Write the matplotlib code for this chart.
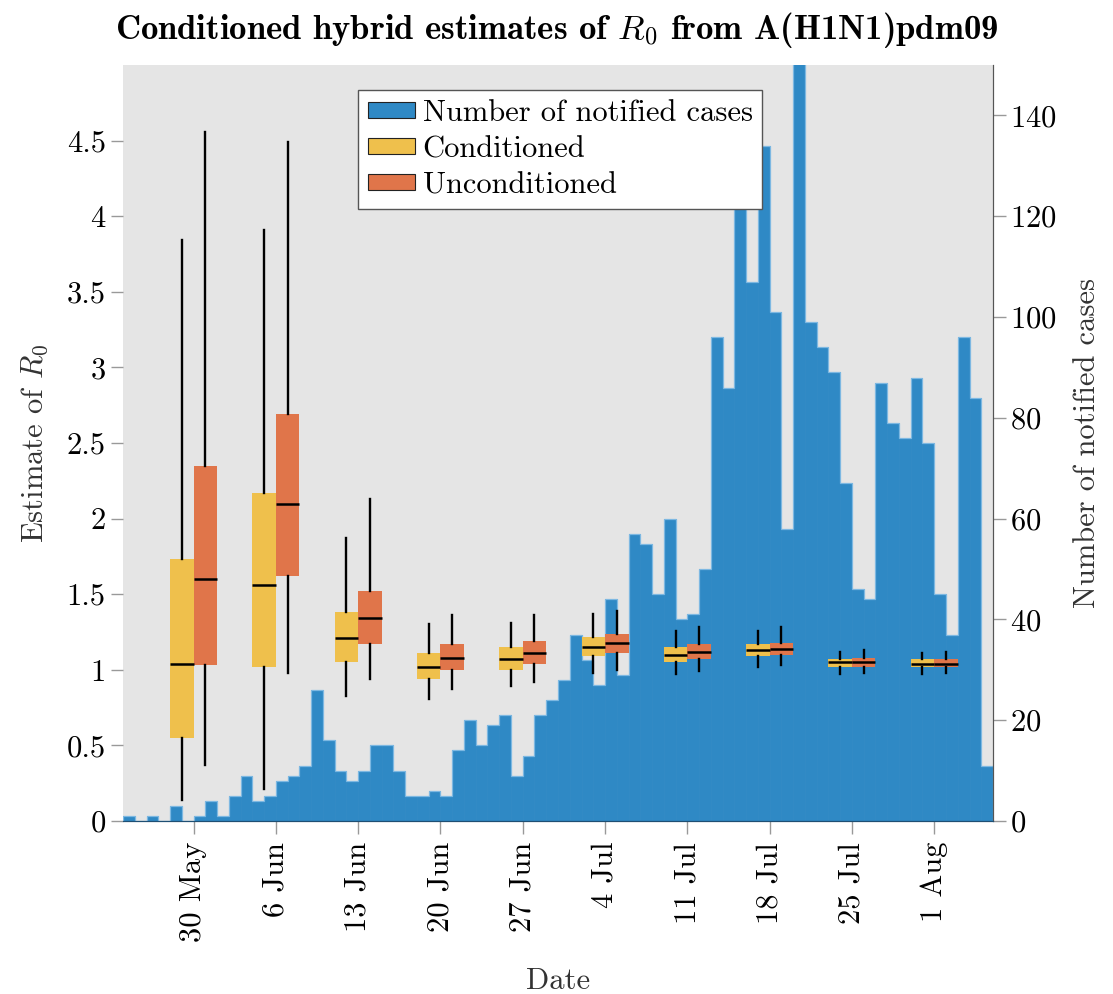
import datetime as dt
import matplotlib
matplotlib.use("Agg")
import matplotlib.pyplot as plt
import matplotlib.dates as mdates
from matplotlib.patches import Patch

plt.rcParams["font.family"] = "serif"
plt.rcParams["font.serif"] = ["cmr10"]
plt.rcParams["mathtext.fontset"] = "cm"
plt.rcParams["axes.unicode_minus"] = False
plt.rcParams["axes.formatter.use_mathtext"] = True

# daily notified cases, starting 24 May 2009
first_day = dt.date(2009, 5, 24)
cases = [1, 0, 1, 0, 3, 0, 1, 4, 1, 5, 9, 4, 5, 8, 9, 11, 26, 16, 10, 8,
         10, 15, 15, 10, 5, 5, 6, 5, 14, 20, 15, 19, 21, 9, 13, 21, 24, 28, 37, 32,
         27, 44, 29, 57, 55, 45, 60, 40, 41, 50, 96, 86, 128, 107, 134, 101, 58, 155, 99, 94,
         89, 67, 46, 44, 87, 79, 76, 88, 75, 45, 37, 96, 84, 11]

week_dates = [dt.date(2009, 5, 30), dt.date(2009, 6, 6), dt.date(2009, 6, 13),
              dt.date(2009, 6, 20), dt.date(2009, 6, 27), dt.date(2009, 7, 4),
              dt.date(2009, 7, 11), dt.date(2009, 7, 18), dt.date(2009, 7, 25),
              dt.date(2009, 8, 1)]
week_labels = ["30 May", "6 Jun", "13 Jun", "20 Jun", "27 Jun",
               "4 Jul", "11 Jul", "18 Jul", "25 Jul", "1 Aug"]

# R0 estimates per week: whisker low, q1, median, q3, whisker high
cond_lo = [0.14, 0.21, 0.83, 0.81, 0.89, 0.98, 0.97, 1.02, 0.97, 0.97]
cond_q1 = [0.55, 1.02, 1.05, 0.94, 1.00, 1.09, 1.05, 1.09, 1.02, 1.02]
cond_med = [1.04, 1.56, 1.21, 1.02, 1.07, 1.15, 1.10, 1.13, 1.05, 1.04]
cond_q3 = [1.73, 2.17, 1.38, 1.11, 1.15, 1.22, 1.15, 1.17, 1.07, 1.07]
cond_hi = [3.84, 3.91, 1.87, 1.30, 1.31, 1.37, 1.26, 1.26, 1.12, 1.11]

uncond_lo = [0.37, 0.98, 0.94, 0.87, 0.92, 1.00, 0.99, 1.03, 0.98, 0.98]
uncond_q1 = [1.03, 1.62, 1.17, 1.00, 1.04, 1.11, 1.07, 1.10, 1.02, 1.02]
uncond_med = [1.60, 2.10, 1.34, 1.08, 1.11, 1.18, 1.12, 1.14, 1.05, 1.04]
uncond_q3 = [2.35, 2.69, 1.52, 1.17, 1.19, 1.24, 1.17, 1.18, 1.08, 1.07]
uncond_hi = [4.56, 4.49, 2.13, 1.36, 1.36, 1.39, 1.28, 1.28, 1.13, 1.12]

r0_ticks = [0, 0.5, 1, 1.5, 2, 2.5, 3, 3.5, 4, 4.5]
r0_labels = ["0", "0.5", "1", "1.5", "2", "2.5", "3", "3.5", "4", "4.5"]
case_ticks = [0, 20, 40, 60, 80, 100, 120, 140]

BLUE = "#2f89c5"
YELLOW = "#efc04c"
ORANGE = "#e0754a"
FS = 22


def make_stats(lo, q1, med, q3, hi):
    return [dict(whislo=a, q1=b, med=c, q3=d, whishi=e, fliers=[])
            for a, b, c, d, e in zip(lo, q1, med, q3, hi)]


fig = plt.figure(figsize=(11.13, 9.94), dpi=100)
ax = fig.add_axes([0.1105, 0.174, 0.7817, 0.7606])
ax.set_facecolor("#e5e5e5")

days = [mdates.date2num(first_day + dt.timedelta(days=i)) for i in range(len(cases))]
ax.bar(days, cases, width=1.0, align="edge", color=BLUE,
       edgecolor=BLUE, linewidth=0.5)
ax.stairs(cases, days + [days[-1] + 1], color="#7db8e2", linewidth=0.9)
ax.set_ylim(0, 150)
ax.set_xlim(days[0], days[-1] + 1)

week_nums = [mdates.date2num(d) for d in week_dates]
ax.set_xticks(week_nums)
ax.set_xticklabels(week_labels, rotation=90)
ax.set_xlabel("Date", fontsize=FS, color="#333333", labelpad=18)

# R0 axis on the left, drawn above the bars
axr = ax.twinx()
axr.yaxis.tick_left()
axr.yaxis.set_label_position("left")
axr.set_ylim(0, 5)
axr.set_yticks(r0_ticks)
axr.set_yticklabels(r0_labels)
axr.set_ylabel("Estimate of $R_0$", fontsize=FS, color="#333333", labelpad=12)

ax.yaxis.tick_right()
ax.yaxis.set_label_position("right")
ax.set_yticks(case_ticks)
ax.set_ylabel("Number of notified cases", fontsize=FS, color="#333333", labelpad=12)

box_kw = dict(widths=2.0, patch_artist=True, showcaps=False, showfliers=False,
              manage_ticks=False,
              whiskerprops=dict(color="black", linewidth=1.7),
              medianprops=dict(color="black", linewidth=1.8))
axr.bxp(make_stats(cond_lo, cond_q1, cond_med, cond_q3, cond_hi),
        positions=[w - 1 for w in week_nums],
        boxprops=dict(facecolor=YELLOW, edgecolor="none", linewidth=0), **box_kw)
axr.bxp(make_stats(uncond_lo, uncond_q1, uncond_med, uncond_q3, uncond_hi),
        positions=[w + 1 for w in week_nums],
        boxprops=dict(facecolor=ORANGE, edgecolor="none", linewidth=0), **box_kw)

for a in (ax, axr):
    a.spines["top"].set_visible(False)
    a.spines["left"].set_visible(False)
    a.spines["right"].set_color("#555555")
    a.spines["bottom"].set_color("#1f4f73")
    a.tick_params(axis="both", labelsize=FS, color="#999999", length=9, width=1)
ax.tick_params(axis="x", pad=6)

handles = [Patch(facecolor=BLUE, edgecolor="#222222", linewidth=0.8),
           Patch(facecolor=YELLOW, edgecolor="#222222", linewidth=0.8),
           Patch(facecolor=ORANGE, edgecolor="#222222", linewidth=0.8)]
leg = axr.legend(handles, ["Number of notified cases", "Conditioned", "Unconditioned"],
                 loc="upper left", bbox_to_anchor=(0.27, 0.967), fontsize=FS,
                 fancybox=False, framealpha=1, edgecolor="#555555",
                 handlelength=1.55, handleheight=0.42, handletextpad=0.25,
                 borderpad=0.32, labelspacing=0.28, borderaxespad=0)
leg.get_frame().set_linewidth(1.0)

fig.suptitle("Conditioned hybrid estimates of $R_0$ from A(H1N1)pdm09",
             fontfamily="cmb10", fontsize=25, x=0.5, y=0.99, va="top")

fig.savefig("out.png", dpi=100)
